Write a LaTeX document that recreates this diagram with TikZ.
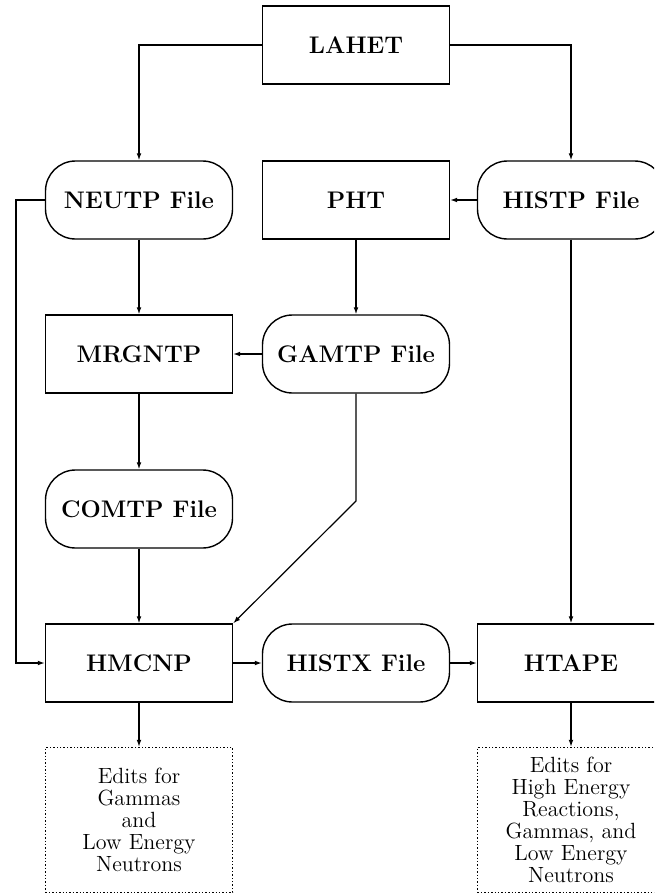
\documentclass[tikz,border=0pt]{standalone}
\usepackage{xcolor}
\usepackage{tikz}
\usetikzlibrary{arrows.meta}

\begin{document}
\begin{tikzpicture}[x=0.5pt, y=-0.5pt,
  procbox/.style={draw, line width=0.7pt, minimum width=93.5pt, minimum height=39pt, font=\large\bfseries},
  filebox/.style={procbox, rounded corners=15pt},
  editbox/.style={draw, densely dotted, line width=0.7pt, minimum width=93.5pt, minimum height=72.5pt, align=center, font=\fontsize{11pt}{11pt}\selectfont},
  flow/.style={-{Latex[length=3.5pt,width=2.4pt]}, line width=0.6pt}]
\useasboundingbox (0,0) rectangle (654,894);
\clip (0,0) rectangle (654,894);

% Codes and files
\node[procbox] (lahet) at (356,45) {LAHET};
\node[filebox] (neutp) at (139,200) {NEUTP File};
\node[procbox] (pht) at (356,200) {PHT};
\node[filebox] (histp) at (571,200) {HISTP File};
\node[procbox] (mrgntp) at (139,354) {MRGNTP};
\node[filebox] (gamtp) at (356,354) {GAMTP File};
\node[filebox] (comtp) at (139,509) {COMTP File};
\node[procbox] (hmcnp) at (139,663) {HMCNP};
\node[filebox] (histx) at (356,663) {HISTX File};
\node[procbox] (htape) at (571,663) {HTAPE};

% Edit outputs
\node[editbox] (editlow) at (139,820) {Edits for\\Gammas\\and\\Low Energy\\Neutrons};
\node[editbox] (edithigh) at (571,820) {Edits for\\High Energy\\Reactions,\\Gammas, and\\Low Energy\\Neutrons};

% Bends of the longer connectors
\coordinate (feed) at (16,200);
\coordinate (bend) at (356,501);

% Connecting arrows
\draw[flow] (lahet.west) -| (neutp.north);
\draw[flow] (lahet.east) -| (histp.north);
\draw[flow] (histp.west) -- (pht.east);
\draw[flow] (pht.south) -- (gamtp.north);
\draw[flow] (neutp.south) -- (mrgntp.north);
\draw[flow] (gamtp.west) -- (mrgntp.east);
\draw[flow] (mrgntp.south) -- (comtp.north);
\draw[flow] (comtp.south) -- (hmcnp.north);
\draw[flow] (gamtp.south) -- (bend) -- (hmcnp.north east);
\draw[flow] (neutp.west) -- (feed) |- (hmcnp.west);
\draw[flow] (histp.south) -- (htape.north);
\draw[flow] (hmcnp.east) -- (histx.west);
\draw[flow] (histx.east) -- (htape.west);
\draw[flow] (hmcnp.south) -- (editlow.north);
\draw[flow] (htape.south) -- (edithigh.north);
\end{tikzpicture}
\end{document}
